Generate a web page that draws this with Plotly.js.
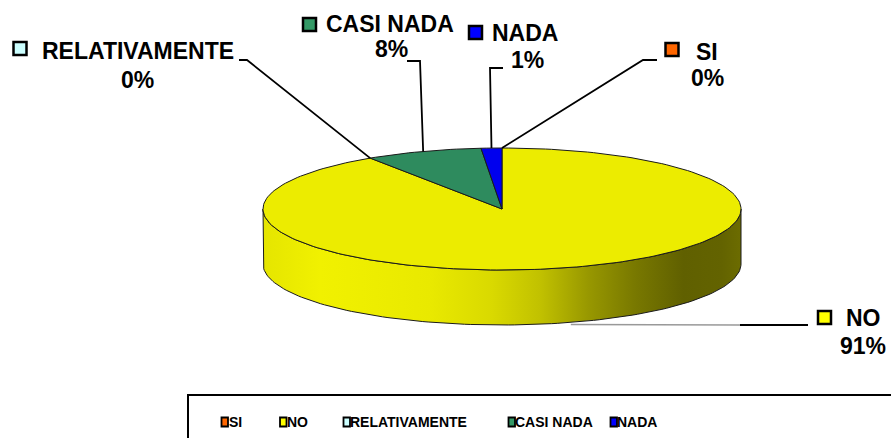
<!DOCTYPE html>
<html><head><meta charset="utf-8">
<script src="https://cdn.plot.ly/plotly-3.0.1.min.js"></script>
<style>html,body{margin:0;padding:0;background:#fff;}#chart{width:891px;height:438px;}</style>
</head><body><div id="chart"></div>
<script>
// ---- data ----
const categories = ['SI', 'NO', 'RELATIVAMENTE', 'CASI NADA', 'NADA'];
const values = [0, 90.7, 0, 7.9, 1.4];
const topColors = ['#ff6600', '#ecec00', '#ccffff', '#2e8b5e', '#0000ee'];
const legendColors = ['#ff6600', '#ffff00', '#ccffff', '#339966', '#0000ff'];

// ---- layout constants (pixel space) ----
const W = 891, H = 438;
const CX = 502, CY = 209, RX = 239, RY = 61, DEPTH = 55;
const FONT = 'Liberation Sans, Arial, sans-serif';

// label placement per category (name centre, percent centre, swatch centre, leader points on label side)
const labelPos = {
  'SI':            {nx: 707, ny: 51.5, px: 707, py: 78,  sx: 672,   sy: 49.5, leader: [[643, 60], [657, 60]]},
  'NO':            {nx: 863, ny: 317.5, px: 863, py: 346, sx: 824.5, sy: 317.5, leader: [[740, 325], [808, 325]], bottom: true},
  'RELATIVAMENTE': {nx: 138, ny: 51,   px: 137, py: 79.5, sx: 20,   sy: 48.5, leader: [[247, 60], [239, 60]]},
  'CASI NADA':     {nx: 390, ny: 24,   px: 391, py: 49,  sx: 309.5, sy: 24.5, leader: [[420, 61], [407, 61]]},
  'NADA':          {nx: 525, ny: 33,   px: 527, py: 60,  sx: 475.5, sy: 32.5, leader: [[490, 68], [503, 68]]}
};
const legendPos = [[224.5, 229], [283, 287], [346.5, 350], [511.5, 515], [613.5, 617]];
const LEG_Y = 422;

function pt(deg, dy) {
  const r = deg * Math.PI / 180;
  return [CX + RX * Math.sin(r), CY - RY * Math.cos(r) + (dy || 0)];
}
function shade(hex) {
  const r = parseInt(hex.slice(1, 3), 16), g = parseInt(hex.slice(3, 5), 16), b = parseInt(hex.slice(5, 7), 16);
  const stops = [[0, 0.95], [0.12, 1.0], [0.35, 0.97], [0.48, 0.9], [0.58, 0.8], [0.68, 0.63], [0.78, 0.5], [0.88, 0.4], [0.96, 0.41], [1, 0.45]];
  return stops.map(s => [s[0], 'rgb(' + Math.round(Math.min(255, r * s[1] * 1.02)) + ',' + Math.round(Math.min(255, g * s[1] * 1.02)) + ',' + Math.round(b * s[1]) + ')']);
}

const total = values.reduce((a, b) => a + b, 0);
let cum = 0;
const slices = values.map((v, i) => {
  const a0 = cum / total * 360; cum += v; const a1 = cum / total * 360;
  return {i, a0, a1, mid: (a0 + a1) / 2};
});

const traces = [];
// side walls (front half: 90..270 deg clockwise from top)
slices.forEach(s => {
  if (values[s.i] <= 0) return;
  const lo = Math.max(s.a0, 90), hi = Math.min(s.a1, 270);
  if (hi <= lo) return;
  const xs = [], ys = [], n = 120;
  for (let k = 0; k <= n; k++) { const p = pt(lo + (hi - lo) * k / n); xs.push(p[0]); ys.push(p[1]); }
  for (let k = n; k >= 0; k--) { const p = pt(lo + (hi - lo) * k / n, DEPTH); xs.push(p[0]); ys.push(p[1]); }
  xs.push(xs[0]); ys.push(ys[0]);
  traces.push({type: 'scatter', mode: 'lines', x: xs, y: ys, fill: 'toself',
    fillgradient: {type: 'horizontal', start: CX - RX, stop: CX + RX, colorscale: shade(topColors[s.i])},
    line: {color: '#1a1a1a', width: 1}, hoverinfo: 'skip', showlegend: false});
});
// top faces
slices.forEach(s => {
  if (values[s.i] <= 0) return;
  const xs = [CX], ys = [CY], n = Math.max(4, Math.ceil((s.a1 - s.a0) / 1.5));
  for (let k = 0; k <= n; k++) { const p = pt(s.a0 + (s.a1 - s.a0) * k / n); xs.push(p[0]); ys.push(p[1]); }
  xs.push(CX); ys.push(CY);
  traces.push({type: 'scatter', mode: 'lines', x: xs, y: ys, fill: 'toself', fillcolor: topColors[s.i],
    line: {color: '#1a1a1a', width: 1}, hoverinfo: 'skip', showlegend: false, name: categories[s.i]});
});
// leader lines
slices.forEach(s => {
  const lp = labelPos[categories[s.i]];
  const p = lp.bottom ? pt(s.mid, DEPTH) : pt(s.mid);
  if (lp.bottom) {
    traces.push({type: 'scatter', mode: 'lines', x: [p[0], lp.leader[0][0]], y: [p[1] + 2, lp.leader[0][1]],
      line: {color: '#999', width: 1.5}, hoverinfo: 'skip', showlegend: false});
    traces.push({type: 'scatter', mode: 'lines', x: [lp.leader[0][0], lp.leader[1][0]], y: [lp.leader[0][1], lp.leader[1][1]],
      line: {color: '#000', width: 2}, hoverinfo: 'skip', showlegend: false});
  } else {
    traces.push({type: 'scatter', mode: 'lines', x: [p[0], lp.leader[0][0], lp.leader[1][0]], y: [p[1], lp.leader[0][1], lp.leader[1][1]],
      line: {color: '#000', width: 1.8}, hoverinfo: 'skip', showlegend: false});
  }
});

const annotations = [], shapes = [];
categories.forEach((c, i) => {
  const lp = labelPos[c];
  const pct = Math.round(values[i] / total * 100) + '%';
  annotations.push({x: lp.nx, y: lp.ny, xref: 'x', yref: 'y', text: '<b>' + c + '</b>', showarrow: false,
    xanchor: 'center', yanchor: 'middle', font: {family: FONT, size: 23, color: '#000'}});
  annotations.push({x: lp.px, y: lp.py, xref: 'x', yref: 'y', text: '<b>' + pct + '</b>', showarrow: false,
    xanchor: 'center', yanchor: 'middle', font: {family: FONT, size: 23, color: '#000'}});
  shapes.push({type: 'rect', xref: 'x', yref: 'y', x0: lp.sx - 6.5, x1: lp.sx + 6.5, y0: lp.sy - 6.5, y1: lp.sy + 6.5,
    fillcolor: legendColors[i], line: {color: '#000', width: 2.5}});
  // bottom legend
  const lg = legendPos[i];
  shapes.push({type: 'rect', xref: 'x', yref: 'y', x0: lg[0] - 3, x1: lg[0] + 3.5, y0: LEG_Y - 4.5, y1: LEG_Y + 4.5,
    fillcolor: legendColors[i], line: {color: '#000', width: 1.8}});
  annotations.push({x: lg[1] - 2, y: LEG_Y, xref: 'x', yref: 'y', text: '<b>' + c + '</b>', showarrow: false,
    xanchor: 'left', yanchor: 'middle', font: {family: FONT, size: 14, color: '#000'}});
});
// legend frame
shapes.push({type: 'rect', xref: 'x', yref: 'y', x0: 188, x1: 895, y0: 395, y1: 445, fillcolor: 'rgba(0,0,0,0)', line: {color: '#000', width: 2}, layer: 'below'});

const layout = {
  width: W, height: H, margin: {l: 0, r: 0, t: 0, b: 0},
  paper_bgcolor: '#fff', plot_bgcolor: '#fff',
  xaxis: {range: [0, W], visible: false, fixedrange: true},
  yaxis: {range: [H, 0], visible: false, fixedrange: true},
  showlegend: false, annotations, shapes
};
Plotly.newPlot('chart', traces, layout, {staticPlot: true, displayModeBar: false});
</script></body></html>
